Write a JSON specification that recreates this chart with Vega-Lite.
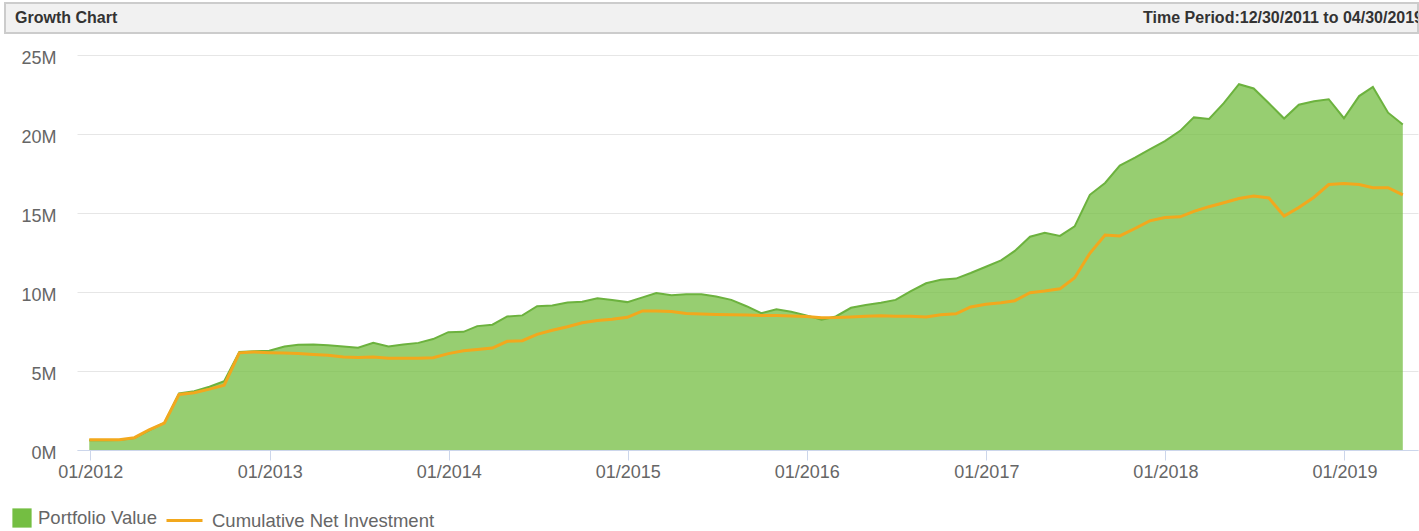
{
  "$schema": "https://vega.github.io/schema/vega-lite/v6.json",
  "padding": {"left": 4, "top": 2, "right": 0, "bottom": 0},
  "background": "white",
  "spacing": 15,
  "config": {"font": "Liberation Sans", "view": {"stroke": null}},
  "resolve": {"scale": {"fill": "independent", "stroke": "independent"}},
  "datasets": {
    "header": [
      {"label": "Growth Chart"},
      {"label": "Time Period:12/30/2011 to 04/30/2019"}
    ],
    "growth": [
      {"date": "2011-12-30", "portfolio_value": 620000, "cumulative_net_investment": 650000},
      {"date": "2012-01-31", "portfolio_value": 620000, "cumulative_net_investment": 650000},
      {"date": "2012-02-29", "portfolio_value": 630000, "cumulative_net_investment": 650000},
      {"date": "2012-03-31", "portfolio_value": 750000, "cumulative_net_investment": 780000},
      {"date": "2012-04-30", "portfolio_value": 1250000, "cumulative_net_investment": 1280000},
      {"date": "2012-05-31", "portfolio_value": 1720000, "cumulative_net_investment": 1700000},
      {"date": "2012-06-30", "portfolio_value": 3580000, "cumulative_net_investment": 3520000},
      {"date": "2012-07-31", "portfolio_value": 3720000, "cumulative_net_investment": 3620000},
      {"date": "2012-08-31", "portfolio_value": 4000000, "cumulative_net_investment": 3850000},
      {"date": "2012-09-30", "portfolio_value": 4350000, "cumulative_net_investment": 4100000},
      {"date": "2012-10-31", "portfolio_value": 6200000, "cumulative_net_investment": 6150000},
      {"date": "2012-11-30", "portfolio_value": 6250000, "cumulative_net_investment": 6200000},
      {"date": "2012-12-31", "portfolio_value": 6280000, "cumulative_net_investment": 6160000},
      {"date": "2013-01-31", "portfolio_value": 6550000, "cumulative_net_investment": 6140000},
      {"date": "2013-02-28", "portfolio_value": 6660000, "cumulative_net_investment": 6100000},
      {"date": "2013-03-31", "portfolio_value": 6680000, "cumulative_net_investment": 6050000},
      {"date": "2013-04-30", "portfolio_value": 6630000, "cumulative_net_investment": 6000000},
      {"date": "2013-05-31", "portfolio_value": 6550000, "cumulative_net_investment": 5880000},
      {"date": "2013-06-30", "portfolio_value": 6470000, "cumulative_net_investment": 5860000},
      {"date": "2013-07-31", "portfolio_value": 6790000, "cumulative_net_investment": 5880000},
      {"date": "2013-08-31", "portfolio_value": 6550000, "cumulative_net_investment": 5800000},
      {"date": "2013-09-30", "portfolio_value": 6680000, "cumulative_net_investment": 5800000},
      {"date": "2013-10-31", "portfolio_value": 6780000, "cumulative_net_investment": 5800000},
      {"date": "2013-11-30", "portfolio_value": 7020000, "cumulative_net_investment": 5840000},
      {"date": "2013-12-31", "portfolio_value": 7460000, "cumulative_net_investment": 6100000},
      {"date": "2014-01-31", "portfolio_value": 7480000, "cumulative_net_investment": 6280000},
      {"date": "2014-02-28", "portfolio_value": 7840000, "cumulative_net_investment": 6360000},
      {"date": "2014-03-31", "portfolio_value": 7930000, "cumulative_net_investment": 6450000},
      {"date": "2014-04-30", "portfolio_value": 8450000, "cumulative_net_investment": 6880000},
      {"date": "2014-05-31", "portfolio_value": 8520000, "cumulative_net_investment": 6920000},
      {"date": "2014-06-30", "portfolio_value": 9100000, "cumulative_net_investment": 7320000},
      {"date": "2014-07-31", "portfolio_value": 9150000, "cumulative_net_investment": 7580000},
      {"date": "2014-08-31", "portfolio_value": 9340000, "cumulative_net_investment": 7800000},
      {"date": "2014-09-30", "portfolio_value": 9380000, "cumulative_net_investment": 8050000},
      {"date": "2014-10-31", "portfolio_value": 9600000, "cumulative_net_investment": 8200000},
      {"date": "2014-11-30", "portfolio_value": 9500000, "cumulative_net_investment": 8280000},
      {"date": "2014-12-31", "portfolio_value": 9360000, "cumulative_net_investment": 8400000},
      {"date": "2015-01-31", "portfolio_value": 9660000, "cumulative_net_investment": 8800000},
      {"date": "2015-02-28", "portfolio_value": 9930000, "cumulative_net_investment": 8800000},
      {"date": "2015-03-31", "portfolio_value": 9800000, "cumulative_net_investment": 8760000},
      {"date": "2015-04-30", "portfolio_value": 9850000, "cumulative_net_investment": 8640000},
      {"date": "2015-05-31", "portfolio_value": 9850000, "cumulative_net_investment": 8600000},
      {"date": "2015-06-30", "portfolio_value": 9720000, "cumulative_net_investment": 8580000},
      {"date": "2015-07-31", "portfolio_value": 9500000, "cumulative_net_investment": 8560000},
      {"date": "2015-08-31", "portfolio_value": 9100000, "cumulative_net_investment": 8540000},
      {"date": "2015-09-30", "portfolio_value": 8660000, "cumulative_net_investment": 8520000},
      {"date": "2015-10-31", "portfolio_value": 8900000, "cumulative_net_investment": 8520000},
      {"date": "2015-11-30", "portfolio_value": 8750000, "cumulative_net_investment": 8480000},
      {"date": "2015-12-31", "portfolio_value": 8520000, "cumulative_net_investment": 8450000},
      {"date": "2016-01-31", "portfolio_value": 8250000, "cumulative_net_investment": 8370000},
      {"date": "2016-02-29", "portfolio_value": 8450000, "cumulative_net_investment": 8380000},
      {"date": "2016-03-31", "portfolio_value": 9000000, "cumulative_net_investment": 8420000},
      {"date": "2016-04-30", "portfolio_value": 9180000, "cumulative_net_investment": 8470000},
      {"date": "2016-05-31", "portfolio_value": 9320000, "cumulative_net_investment": 8500000},
      {"date": "2016-06-30", "portfolio_value": 9500000, "cumulative_net_investment": 8470000},
      {"date": "2016-07-31", "portfolio_value": 10050000, "cumulative_net_investment": 8470000},
      {"date": "2016-08-31", "portfolio_value": 10550000, "cumulative_net_investment": 8420000},
      {"date": "2016-09-30", "portfolio_value": 10780000, "cumulative_net_investment": 8560000},
      {"date": "2016-10-31", "portfolio_value": 10850000, "cumulative_net_investment": 8620000},
      {"date": "2016-11-30", "portfolio_value": 11200000, "cumulative_net_investment": 9050000},
      {"date": "2016-12-31", "portfolio_value": 11600000, "cumulative_net_investment": 9220000},
      {"date": "2017-01-31", "portfolio_value": 12000000, "cumulative_net_investment": 9320000},
      {"date": "2017-02-28", "portfolio_value": 12600000, "cumulative_net_investment": 9450000},
      {"date": "2017-03-31", "portfolio_value": 13500000, "cumulative_net_investment": 9950000},
      {"date": "2017-04-30", "portfolio_value": 13750000, "cumulative_net_investment": 10060000},
      {"date": "2017-05-31", "portfolio_value": 13550000, "cumulative_net_investment": 10200000},
      {"date": "2017-06-30", "portfolio_value": 14150000, "cumulative_net_investment": 10900000},
      {"date": "2017-07-31", "portfolio_value": 16150000, "cumulative_net_investment": 12450000},
      {"date": "2017-08-31", "portfolio_value": 16900000, "cumulative_net_investment": 13600000},
      {"date": "2017-09-30", "portfolio_value": 18000000, "cumulative_net_investment": 13550000},
      {"date": "2017-10-31", "portfolio_value": 18500000, "cumulative_net_investment": 14020000},
      {"date": "2017-11-30", "portfolio_value": 19020000, "cumulative_net_investment": 14500000},
      {"date": "2017-12-31", "portfolio_value": 19550000, "cumulative_net_investment": 14720000},
      {"date": "2018-01-31", "portfolio_value": 20200000, "cumulative_net_investment": 14760000},
      {"date": "2018-02-28", "portfolio_value": 21050000, "cumulative_net_investment": 15100000},
      {"date": "2018-03-31", "portfolio_value": 20950000, "cumulative_net_investment": 15400000},
      {"date": "2018-04-30", "portfolio_value": 21950000, "cumulative_net_investment": 15650000},
      {"date": "2018-05-31", "portfolio_value": 23150000, "cumulative_net_investment": 15920000},
      {"date": "2018-06-30", "portfolio_value": 22880000, "cumulative_net_investment": 16070000},
      {"date": "2018-07-31", "portfolio_value": 21950000, "cumulative_net_investment": 15950000},
      {"date": "2018-08-31", "portfolio_value": 20980000, "cumulative_net_investment": 14800000},
      {"date": "2018-09-30", "portfolio_value": 21850000, "cumulative_net_investment": 15350000},
      {"date": "2018-10-31", "portfolio_value": 22070000, "cumulative_net_investment": 16000000},
      {"date": "2018-11-30", "portfolio_value": 22200000, "cumulative_net_investment": 16800000},
      {"date": "2018-12-31", "portfolio_value": 21000000, "cumulative_net_investment": 16860000},
      {"date": "2019-01-31", "portfolio_value": 22400000, "cumulative_net_investment": 16800000},
      {"date": "2019-02-28", "portfolio_value": 22980000, "cumulative_net_investment": 16600000},
      {"date": "2019-03-31", "portfolio_value": 21350000, "cumulative_net_investment": 16600000},
      {"date": "2019-04-30", "portfolio_value": 20600000, "cumulative_net_investment": 16150000}
    ]
  },
  "vconcat": [
    {
      "width": 1413,
      "height": 30,
      "view": {"fill": "#f1f1f1", "stroke": "#cccccc", "strokeWidth": 2},
      "data": {"name": "header"},
      "encoding": {
        "x": {"field": "label", "type": "nominal", "scale": {"type": "point", "padding": 0}, "axis": null},
        "text": {"field": "label"}
      },
      "layer": [
        {
          "transform": [{"filter": "datum.label === 'Growth Chart'"}],
          "mark": {"type": "text", "align": "left", "baseline": "middle", "dx": 10, "fontSize": 16, "fontWeight": "bold", "color": "#333333"}
        },
        {
          "transform": [{"filter": "datum.label !== 'Growth Chart'"}],
          "mark": {"type": "text", "align": "right", "baseline": "middle", "dx": 5, "fontSize": 16, "fontWeight": "bold", "color": "#333333", "clip": true}
        }
      ]
    },
    {
      "width": 1413,
      "height": 395,
      "data": {"name": "growth"},
      "encoding": {
        "x": {
          "field": "date",
          "type": "temporal",
          "scale": {"type": "utc", "range": [72, 1413], "domain": [{"year": 2011, "month": 12, "date": 5, "utc": true}, {"year": 2019, "month": 5, "date": 31, "utc": true}]},
          "axis": {
            "title": null,
            "values": [
              {"year": 2012, "month": 1, "date": 1, "utc": true},
              {"year": 2013, "month": 1, "date": 1, "utc": true},
              {"year": 2014, "month": 1, "date": 1, "utc": true},
              {"year": 2015, "month": 1, "date": 1, "utc": true},
              {"year": 2016, "month": 1, "date": 1, "utc": true},
              {"year": 2017, "month": 1, "date": 1, "utc": true},
              {"year": 2018, "month": 1, "date": 1, "utc": true},
              {"year": 2019, "month": 1, "date": 1, "utc": true}
            ],
            "labelExpr": "utcFormat(datum.value, '%m/%Y')",
            "grid": false,
            "domainColor": "#ccd6eb",
            "tickColor": "#ccd6eb",
            "tickSize": 10,
            "labelFontSize": 18,
            "labelColor": "#666666",
            "labelPadding": 3,
            "labelFlush": false,
            "labelOverlap": false
          }
        }
      },
      "layer": [
        {
          "mark": {"type": "area", "fillOpacity": 0.75},
          "encoding": {
            "y": {
              "field": "portfolio_value",
              "type": "quantitative",
              "scale": {"domain": [0, 25000000], "nice": false},
              "axis": {
                "title": null,
                "values": [0, 5000000, 10000000, 15000000, 20000000, 25000000],
                "labelExpr": "(datum.value / 1000000) + 'M'",
                "offset": -72,
                "grid": true,
                "gridColor": "#e6e6e6",
                "domain": false,
                "ticks": false,
                "tickSize": 0,
                "labelPadding": 21,
                "labelOffset": 3,
                "labelFontSize": 18,
                "labelColor": "#666666"
              }
            },
            "fill": {
              "datum": "Portfolio Value",
              "type": "nominal",
              "scale": {"range": ["#74be42"]},
              "legend": {
                "title": null,
                "orient": "none",
                "legendX": 7,
                "legendY": 453,
                "padding": 0,
                "symbolType": "square",
                "symbolSize": 370,
                "symbolOpacity": 1,
                "symbolStrokeWidth": 0,
                "labelFontSize": 18.5,
                "labelColor": "#666666",
                "labelOffset": 6,
                "labelLimit": 400
              }
            }
          }
        },
        {
          "mark": {"type": "line", "color": "#6cb23e", "strokeWidth": 2},
          "encoding": {
            "y": {"field": "portfolio_value", "type": "quantitative", "title": null}
          }
        },
        {
          "mark": {"type": "line", "strokeWidth": 3},
          "encoding": {
            "y": {"field": "cumulative_net_investment", "type": "quantitative", "title": null},
            "stroke": {
              "datum": "Cumulative Net Investment",
              "type": "nominal",
              "scale": {"range": ["#f2a81d"]},
              "legend": {
                "title": null,
                "orient": "none",
                "legendX": 160,
                "legendY": 446,
                "padding": 0,
                "symbolType": "stroke",
                "symbolSize": 1296,
                "symbolStrokeWidth": 3,
                "labelFontSize": 18.5,
                "labelColor": "#666666",
                "labelOffset": 8,
                "labelLimit": 400
              }
            }
          }
        }
      ]
    }
  ]
}
